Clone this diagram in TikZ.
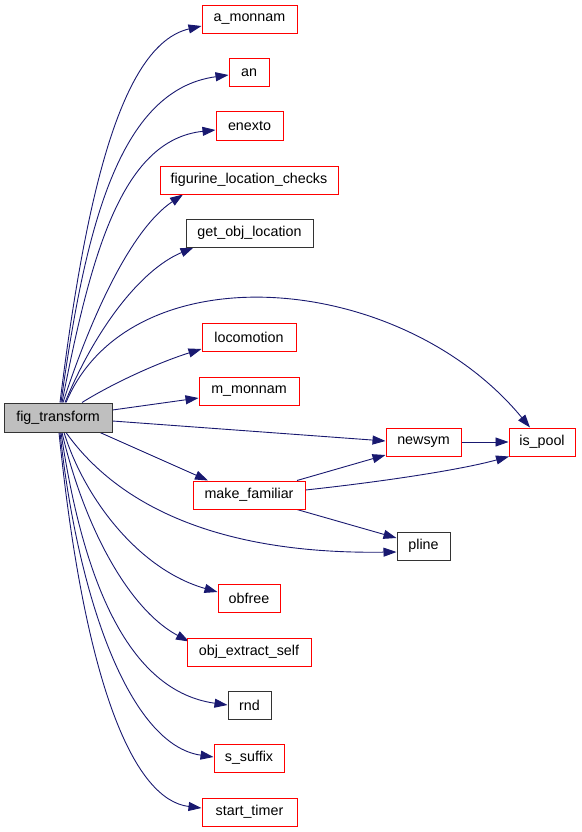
\documentclass[tikz,border=0pt]{standalone}
\usepackage{fontspec}
\setmainfont{Liberation Sans}
\usetikzlibrary{arrows.meta}
\pgfdeclarelayer{edgelayer}
\pgfsetlayers{edgelayer,main}
\definecolor{edgec}{HTML}{191970}
\definecolor{boxblk}{HTML}{333333}
\definecolor{boxred}{HTML}{FF0000}
\definecolor{rootfill}{HTML}{BFBFBF}
\tikzset{
  fnbase/.style={line width=1pt, minimum height=28pt, inner sep=0pt, font=\fontsize{14.3}{16}\selectfont, text=black},
  fn/.style={fnbase, draw=boxred, fill=white},
  fnblk/.style={fnbase, draw=boxblk, fill=white},
  rootbox/.style={fnbase, draw=boxblk, fill=rootfill},
  call/.style={draw=edgec, line width=0.9pt, -{Triangle[length=13pt,width=9pt]}},
}
\begin{document}
\begin{tikzpicture}[x=1pt,y=-1pt]
\useasboundingbox (0,0) rectangle (581,832);
\node[rootbox, minimum width=108pt, minimum height=29pt] (fig) at (58,417.5) {fig\_transform};
\node[fn, minimum width=95pt] (amon) at (249.5,19.5) {a\_monnam};
\node[fn, minimum width=40pt] (an) at (249,73) {an};
\node[fn, minimum width=67pt] (enexto) at (249.5,126) {enexto};
\node[fn, minimum width=178pt] (figloc) at (249,180) {figurine\_location\_checks};
\node[fnblk, minimum width=127pt] (getobj) at (249.5,233) {get\_obj\_location};
\node[fn, minimum width=94pt] (loco) at (249,337) {locomotion};
\node[fn, minimum width=100pt] (mmon) at (249,391) {m\_monnam};
\node[fn, minimum width=75pt] (newsym) at (423.5,442) {newsym};
\node[fn, minimum width=66pt] (ispool) at (542,442) {is\_pool};
\node[fn, minimum width=112pt] (mkfam) at (249,495) {make\_familiar};
\node[fnblk, minimum width=53pt] (pline) at (423.5,546) {pline};
\node[fn, minimum width=62pt] (obfree) at (249,598.5) {obfree};
\node[fn, minimum width=124pt] (objext) at (249,652) {obj\_extract\_self};
\node[fnblk, minimum width=43pt] (rnd) at (249.5,705) {rnd};
\node[fn, minimum width=70pt] (ssuf) at (249,758) {s\_suffix};
\node[fn, minimum width=95pt] (stimer) at (249.5,812) {start\_timer};

\begin{pgfonlayer}{edgelayer}
% edges from fig_transform (top side)
\draw[call] ([xshift=2pt]fig.north) .. controls (85,200) and (120,45) .. ([yshift=-6.5pt]amon.west);
\draw[call] ([xshift=3pt]fig.north) .. controls (85,230) and (118,90) .. ([yshift=-2pt]an.west);
\draw[call] ([xshift=4pt]fig.north) .. controls (90,260) and (120,140) .. ([yshift=-4pt]enexto.west);
\draw[call] ([xshift=5pt]fig.north) .. controls (90,320) and (130,230) .. ([xshift=-66pt]figloc.south);
\draw[call] ([xshift=7pt]fig.north) .. controls (95,330) and (140,270) .. ([xshift=-56pt]getobj.south);
\draw[call] ([xshift=8pt]fig.north) .. controls (130,250) and (400,270) .. ([xshift=-12pt]ispool.north);
\draw[call] ([xshift=24pt]fig.north) .. controls (115,382) and (160,362) .. ([yshift=-12pt]loco.west);
\draw[call] ([yshift=7.5pt]fig.east) -- ([yshift=-7pt]mmon.west);
\draw[call] ([yshift=-3.5pt]fig.east) -- ([yshift=1pt]newsym.west);
\draw[call] ([xshift=42pt]fig.south) -- ([xshift=-41pt]mkfam.north);
% edges from fig_transform (bottom side)
\draw[call] ([xshift=8pt]fig.south) .. controls (100,480) and (180,555) .. ([yshift=-6pt]pline.west);
\draw[call] ([xshift=6pt]fig.south) .. controls (85,500) and (140,570) .. ([yshift=6.5pt]obfree.west);
\draw[call] ([xshift=4pt]fig.south) .. controls (85,530) and (130,610) .. ([xshift=-60pt,yshift=-4pt]objext.north);
\draw[call] ([xshift=3pt]fig.south) .. controls (80,560) and (120,690) .. (rnd.west);
\draw[call] ([xshift=2pt]fig.south) .. controls (78,600) and (130,745) .. ([yshift=1pt]ssuf.west);
\draw[call] ([xshift=1pt]fig.south) .. controls (85,690) and (135,800) .. ([yshift=4pt]stimer.west);
% other edges
\draw[call] ([xshift=48pt]mkfam.north) -- ([yshift=-13pt]newsym.west);
\draw[call] ([yshift=5pt]mkfam.east) .. controls (380,482) and (460,470) .. ([xshift=-33pt]ispool.south);
\draw[call] ([xshift=48pt]mkfam.south) -- ([yshift=8pt]pline.west);
\draw[call] (newsym.east) -- (ispool.west);
\end{pgfonlayer}
\end{tikzpicture}
\end{document}
